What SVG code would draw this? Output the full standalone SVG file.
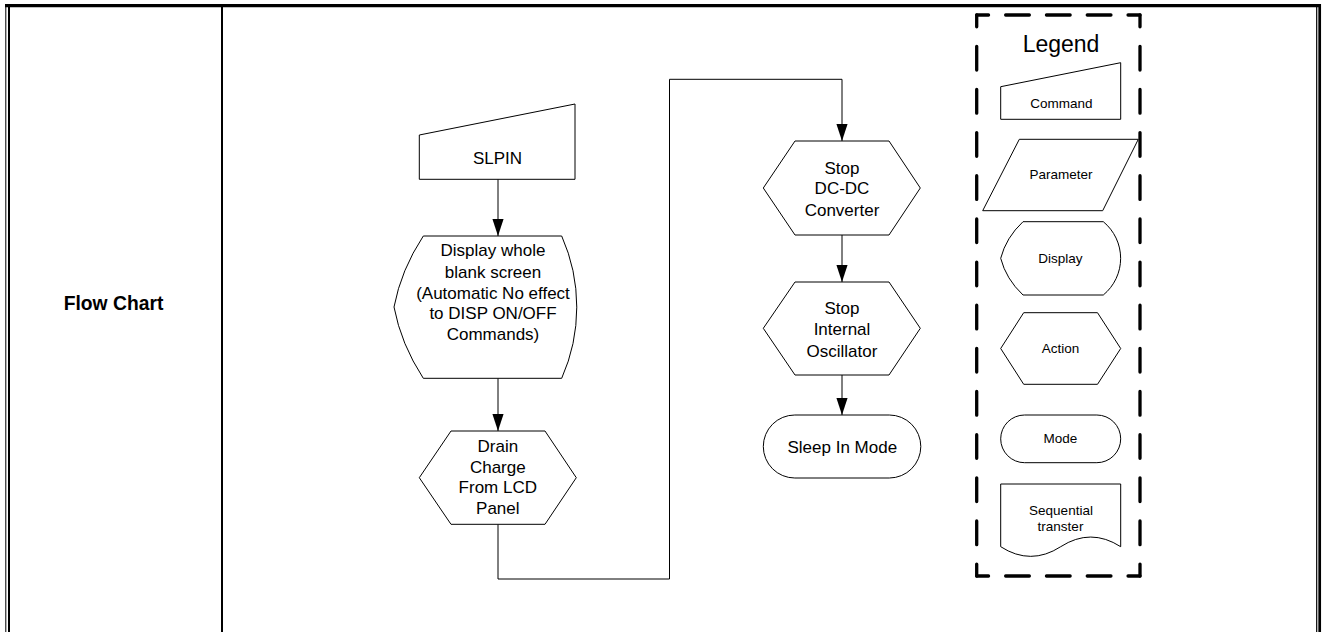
<svg xmlns="http://www.w3.org/2000/svg" width="1322" height="632" viewBox="0 0 1322 632">
<defs>
<marker id="arr" markerUnits="userSpaceOnUse" markerWidth="18" markerHeight="12" refX="17.5" refY="5.75" orient="auto">
<path d="M0,0 L17.5,5.75 L0,11.5 z" fill="#000"/>
</marker>
<style>
.shape{fill:#fff;stroke:#000;stroke-width:1}
.t{font-family:"Liberation Sans",Arial,sans-serif;font-size:17px;fill:#000;text-anchor:middle}
.s{font-family:"Liberation Sans",Arial,sans-serif;font-size:13.5px;fill:#000;text-anchor:middle}
.conn{fill:none;stroke:#000;stroke-width:1}
.dash{fill:none;stroke:#000;stroke-width:3.3;stroke-linecap:round}
.frame{stroke:#000;fill:none}
</style>
</defs>
<rect width="1322" height="632" fill="#fff"/>
<g id="frame">
<line class="frame" x1="5" y1="5.7" x2="1321" y2="5.7" stroke-width="3.3"/>
<line class="frame" x1="5.8" y1="4" x2="5.8" y2="632" stroke-width="1"/>
<line class="frame" x1="9" y1="5" x2="9" y2="632" stroke-width="2"/>
<line class="frame" x1="222" y1="5" x2="222" y2="632" stroke-width="2"/>
<line class="frame" x1="1316.7" y1="5" x2="1316.7" y2="632" stroke-width="1.2"/>
<line class="frame" x1="1319.7" y1="4" x2="1319.7" y2="632" stroke-width="2.7"/>
</g>
<g id="title">
<text x="113.5" y="309.5" style="font-family:'Liberation Sans',Arial,sans-serif;font-size:19.3px;font-weight:bold;text-anchor:middle">Flow Chart</text>
</g>
<g id="connectors">
<line class="conn" x1="498" y1="179.3" x2="498" y2="236" marker-end="url(#arr)"/>
<line class="conn" x1="498" y1="378.3" x2="498" y2="431" marker-end="url(#arr)"/>
<polyline class="conn" points="498,524.3 498,579 669.5,579 669.5,79.3 842,79.3 842,141" marker-end="url(#arr)"/>
<line class="conn" x1="842" y1="235" x2="842" y2="282" marker-end="url(#arr)"/>
<line class="conn" x1="842" y1="375" x2="842" y2="415" marker-end="url(#arr)"/>
</g>
<g id="slpin">
<polygon class="shape" points="419.3,135 575,104 575,179.3 419.3,179.3"/>
<text class="t" x="497.5" y="164">SLPIN</text>
</g>
<g id="display-blank">
<path class="shape" d="M423.3,236 L561.7,236 A175.5,175.5 0 0 1 561.7,378.3 L423.3,378.3 Q401,344 394,307 Q401,270 423.3,236 Z"/>
<text class="t" x="493" y="256">Display whole</text>
<text class="t" x="493" y="277.5">blank screen</text>
<text class="t" x="493" y="298.5">(Automatic No effect</text>
<text class="t" x="493" y="319">to DISP ON/OFF</text>
<text class="t" x="493" y="339.5">Commands)</text>
</g>
<g id="drain">
<polygon class="shape" points="419.3,477.7 451,431 545,431 576.3,477.7 545,524.3 451,524.3"/>
<text class="t" x="497.8" y="451.7">Drain</text>
<text class="t" x="497.8" y="472.7">Charge</text>
<text class="t" x="497.8" y="493.3">From LCD</text>
<text class="t" x="497.8" y="514.3">Panel</text>
</g>
<g id="stop-dcdc">
<polygon class="shape" points="763.3,188 795,141 889,141 920.3,188 889,235 795,235"/>
<text class="t" x="842" y="173.5">Stop</text>
<text class="t" x="842" y="194.3">DC-DC</text>
<text class="t" x="842" y="215.5">Converter</text>
</g>
<g id="stop-osc">
<polygon class="shape" points="763.3,328.3 795,282 889,282 920.3,328.3 889,375 795,375"/>
<text class="t" x="842" y="314">Stop</text>
<text class="t" x="842" y="335">Internal</text>
<text class="t" x="842" y="356.5">Oscillator</text>
</g>
<g id="sleep-in">
<rect class="shape" x="763.3" y="415" width="157.5" height="63" rx="31.5" ry="31.5"/>
<text class="t" x="842.3" y="452.5">Sleep In Mode</text>
</g>
<g id="legend">
<path class="dash" d="M976.7,15 L1140,15" stroke-dasharray="23.7 17.1" stroke-dashoffset="11.85"/>
<path class="dash" d="M976.7,576 L1140,576" stroke-dasharray="23.7 17.1" stroke-dashoffset="11.85"/>
<path class="dash" d="M976.7,15 L976.7,576" stroke-dasharray="23.7 19.45" stroke-dashoffset="11.85"/>
<path class="dash" d="M1140,15 L1140,576" stroke-dasharray="23.7 19.45" stroke-dashoffset="11.85"/>
<text x="1061" y="51.7" style="font-family:'Liberation Sans',Arial,sans-serif;font-size:23px;text-anchor:middle">Legend</text>
</g>
<g id="legend-command">
<polygon class="shape" points="1000.7,86.7 1120.7,62.7 1120.7,119.3 1000.7,119.3"/>
<text class="s" x="1061.5" y="107.5">Command</text>
</g>
<g id="legend-parameter">
<polygon class="shape" points="1019.3,139.3 1138.3,139.3 1102.7,210.7 982.7,210.7"/>
<text class="s" x="1061" y="179">Parameter</text>
</g>
<g id="legend-display">
<path class="shape" d="M1023,221.7 L1103.3,221.7 A47.4,47.4 0 0 1 1103.3,295 L1023,295 Q1006,279 1000.7,258.3 Q1006,237.6 1023,221.7 Z"/>
<text class="s" x="1060.5" y="263">Display</text>
</g>
<g id="legend-action">
<polygon class="shape" points="1000.7,348.5 1023.7,312.7 1097.5,312.7 1120.7,348.5 1097.5,384.3 1023.7,384.3"/>
<text class="s" x="1060.5" y="353.3">Action</text>
</g>
<g id="legend-mode">
<rect class="shape" x="1000.7" y="415" width="120" height="47.7" rx="23.85" ry="23.85"/>
<text class="s" x="1060.5" y="443.3">Mode</text>
</g>
<g id="legend-sequential">
<path class="shape" d="M1000.7,484 L1120.7,484 L1120.7,546.7 Q1090.7,527.4 1060.7,546.7 Q1030.7,566 1000.7,546.7 Z"/>
<text class="s" x="1061" y="514.8">Sequential</text>
<text class="s" x="1060.5" y="530.8">transter</text>
</g>
</svg>
